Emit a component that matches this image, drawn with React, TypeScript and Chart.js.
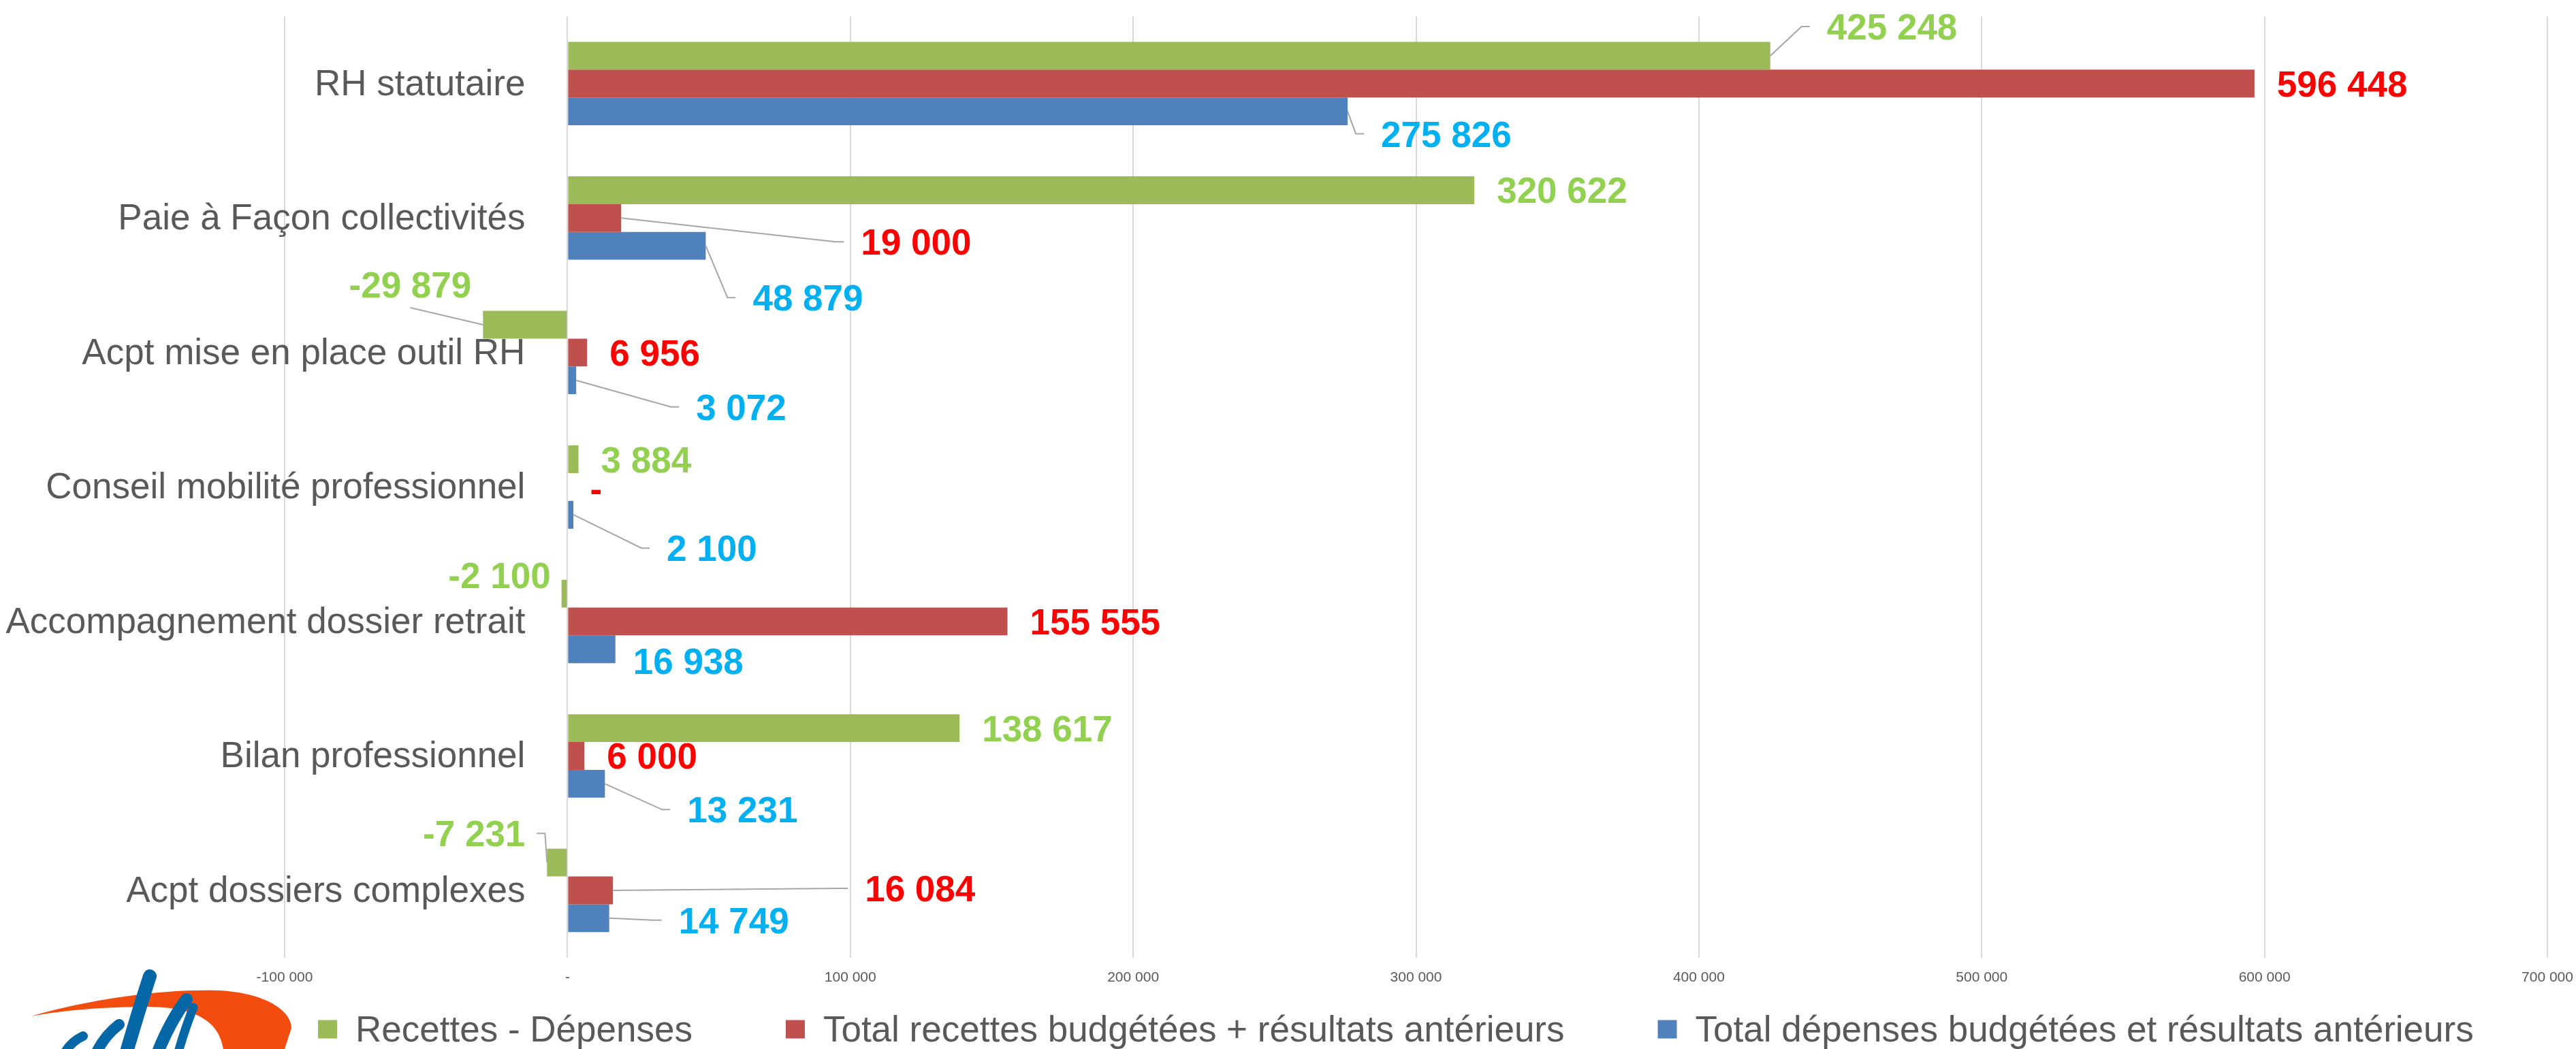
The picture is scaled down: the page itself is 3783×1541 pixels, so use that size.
import React, { useEffect, useRef } from 'react';
import { Chart, registerables } from 'chart.js';

Chart.register(...registerables);

// ---------- Data ----------
const categories = [
  'RH statutaire',
  'Paie à Façon collectivités',
  'Acpt mise en place outil RH',
  'Conseil mobilité professionnel',
  'Accompagnement dossier retrait',
  'Bilan professionnel',
  'Acpt dossiers complexes',
];
const seriesNames = [
  'Recettes - Dépenses',
  'Total recettes budgétées + résultats antérieurs',
  'Total dépenses budgétées et résultats antérieurs',
];
const recettesMoinsDepenses = [425248, 320622, -29879, 3884, -2100, 138617, -7231];
const totalRecettes = [596448, 19000, 6956, 0, 155555, 6000, 16084];
const totalDepenses = [275826, 48879, 3072, 2100, 16938, 13231, 14749];
const xMin = -100000;
const xMax = 700000;
const xStep = 100000;

// ---------- Styles ----------
const FONT = '"Liberation Sans", Arial, Helvetica, sans-serif';
const barColors = ['#9BBB59', '#C0504D', '#4F81BD'];
const labelColors = ['#92D050', '#FF0000', '#00B0F0'];
const textGray = '#595959';

// manual label displacements (Excel dragged labels), px relative to default "outside end"
type Off = { dx: number; dy: number; leader?: 'side' | 'below' };
const labelOffsets: Off[][] = [
  [
    { dx: 50, dy: -43, leader: 'side' },
    { dx: 0, dy: 0 },
    { dx: 16, dy: -59, leader: 'below' },
    { dx: 0, dy: 0 },
    { dx: 17, dy: -27 },
    { dx: 0, dy: 0 },
    { dx: 1, dy: -43, leader: 'side' },
  ],
  [
    { dx: 0, dy: 0 },
    { dx: 319, dy: 35, leader: 'side' },
    { dx: 0, dy: 0 },
    { dx: 0, dy: 3 },
    { dx: 0, dy: 0 },
    { dx: 0, dy: 0 },
    { dx: 337, dy: -3, leader: 'side' },
  ],
  [
    { dx: 16, dy: 33, leader: 'side' },
    { dx: 36, dy: 76, leader: 'side' },
    { dx: 143, dy: 39, leader: 'side' },
    { dx: 104, dy: 49, leader: 'side' },
    { dx: -7, dy: 17 },
    { dx: 88, dy: 38, leader: 'side' },
    { dx: 69, dy: 3, leader: 'side' },
  ],
];

const fmt = (v: number): string => {
  if (v === 0) return '-';
  const s = Math.abs(Math.round(v)).toString().replace(/\B(?=(\d{3})+(?!\d))/g, ' ');
  return (v < 0 ? '-' : '') + s;
};

const dataLabelPlugin = {
  id: 'dataLabels',
  afterDatasetsDraw(chart: any) {
    const ctx = chart.ctx as CanvasRenderingContext2D;
    const FS = 53;
    const CAP = FS * 0.716;
    ctx.save();
    ctx.font = `bold ${FS}px ${FONT}`;
    ctx.textAlign = 'left';
    ctx.textBaseline = 'alphabetic';
    chart.data.datasets.forEach((ds: any, di: number) => {
      const meta = chart.getDatasetMeta(di);
      meta.data.forEach((bar: any, i: number) => {
        const v = ds.data[i] as number;
        const off = labelOffsets[di][i];
        const text = fmt(v);
        const w = ctx.measureText(text).width;
        const neg = v < 0;
        const left = (neg ? bar.x - 33 - w : bar.x + 33) + off.dx;
        const cy = bar.y + off.dy;
        if (off.leader) {
          ctx.strokeStyle = '#A6A6A6';
          ctx.lineWidth = 2;
          ctx.beginPath();
          ctx.moveTo(bar.x, bar.y);
          if (off.leader === 'below') {
            ctx.lineTo(left + w / 2, cy + 34);
          } else if (neg) {
            ctx.lineTo(left + w + 29, cy);
            ctx.lineTo(left + w + 17, cy);
          } else {
            ctx.lineTo(left - 37, cy);
            ctx.lineTo(left - 25, cy);
          }
          ctx.stroke();
        }
        ctx.fillStyle = labelColors[di];
        ctx.fillText(text, left, cy + CAP / 2);
      });
    });
    ctx.restore();
  },
};

const categoryLabelPlugin = {
  id: 'categoryLabels',
  afterDraw(chart: any) {
    const ctx = chart.ctx as CanvasRenderingContext2D;
    const FS = 53;
    const CAP = FS * 0.716;
    const x0 = chart.scales.x.getPixelForValue(0) - 62;
    ctx.save();
    ctx.font = `${FS}px ${FONT}`;
    ctx.fillStyle = textGray;
    ctx.textAlign = 'right';
    ctx.textBaseline = 'alphabetic';
    categories.forEach((c, i) => {
      const y = chart.scales.y.getPixelForValue(i);
      ctx.fillText(c, x0, y - 2 + CAP / 2);
    });
    ctx.restore();
  },
};

const legendPlugin = {
  id: 'customLegend',
  afterDraw(chart: any) {
    const ctx = chart.ctx as CanvasRenderingContext2D;
    const FS = 53;
    const CAP = FS * 0.716;
    const cy = 1512;
    ctx.save();
    ctx.font = `${FS}px ${FONT}`;
    ctx.textAlign = 'left';
    ctx.textBaseline = 'alphabetic';
    let x = 467;
    seriesNames.forEach((name, i) => {
      ctx.fillStyle = barColors[i];
      ctx.fillRect(x, cy - 13.5, 28, 27);
      ctx.fillStyle = textGray;
      ctx.fillText(name, x + 55, cy + CAP / 2 - 1);
      x += 55 + ctx.measureText(name).width + 137;
    });
    ctx.restore();
  },
};

const logoPlugin = {
  id: 'logo',
  afterDraw(chart: any) {
    const ctx = chart.ctx as CanvasRenderingContext2D;
    ctx.save();
    // orange crescent
    ctx.fillStyle = '#F24C0F';
    ctx.beginPath();
    ctx.moveTo(45, 1493);
    ctx.bezierCurveTo(140, 1466, 240, 1453, 320, 1455);
    ctx.bezierCurveTo(390, 1458, 428, 1485, 428, 1510);
    ctx.lineTo(418, 1541);
    ctx.lineTo(328, 1541);
    ctx.bezierCurveTo(322, 1505, 295, 1480, 220, 1479);
    ctx.bezierCurveTo(150, 1479, 95, 1484, 45, 1493);
    ctx.closePath();
    ctx.fill();
    // blue strokes
    ctx.strokeStyle = '#0567A6';
    ctx.lineCap = 'round';
    const strokes: [number, number, number, number, number, number, number][] = [
      [220, 1434, 205, 1480, 186, 1545, 20],
      [274, 1468, 250, 1500, 232, 1545, 18],
      [284, 1480, 272, 1510, 262, 1545, 13],
      [175, 1505, 155, 1520, 142, 1545, 16],
      [122, 1522, 105, 1530, 96, 1545, 14],
    ];
    strokes.forEach(([x1, y1, cx, cy, x2, y2, w]) => {
      ctx.lineWidth = w;
      ctx.beginPath();
      ctx.moveTo(x1, y1);
      ctx.quadraticCurveTo(cx, cy, x2, y2);
      ctx.stroke();
    });
    ctx.restore();
  },
};

export default function App() {
  const ref = useRef<HTMLCanvasElement | null>(null);
  useEffect(() => {
    document.body.style.margin = '0';
    document.body.style.overflow = 'hidden';
    const canvas = ref.current;
    if (!canvas) return;
    const chart = new Chart(canvas, {
      type: 'bar',
      data: {
        labels: categories,
        datasets: [recettesMoinsDepenses, totalRecettes, totalDepenses].map((d, i) => ({
          label: seriesNames[i],
          data: d,
          backgroundColor: barColors[i],
          borderWidth: 0,
          categoryPercentage: 0.62,
          barPercentage: 1,
        })),
      },
      options: {
        indexAxis: 'y',
        responsive: false,
        maintainAspectRatio: false,
        animation: false,
        devicePixelRatio: 1,
        layout: { padding: { left: 418, right: 42, top: 24, bottom: 75 } },
        plugins: { legend: { display: false }, tooltip: { enabled: false } },
        scales: {
          x: {
            type: 'linear',
            min: xMin,
            max: xMax,
            afterFit: (scale: any) => {
              scale.paddingLeft = 0;
              scale.paddingRight = 0;
            },
            grid: { color: '#D9D9D9', lineWidth: 2, drawTicks: false },
            border: { display: false },
            ticks: {
              stepSize: xStep,
              autoSkip: false,
              maxRotation: 0,
              padding: 17,
              color: textGray,
              font: { family: FONT, size: 21 },
              callback: (v: any) => fmt(Number(v)),
            },
          },
          y: {
            type: 'category',
            display: false,
          },
        },
      },
      plugins: [dataLabelPlugin, categoryLabelPlugin, legendPlugin, logoPlugin],
    } as any);
    return () => chart.destroy();
  }, []);
  return (
    <div style={{ width: 3783, height: 1541, background: '#fff' }}>
      <canvas ref={ref} width={3783} height={1541} style={{ display: 'block', width: 3783, height: 1541 }} />
    </div>
  );
}
